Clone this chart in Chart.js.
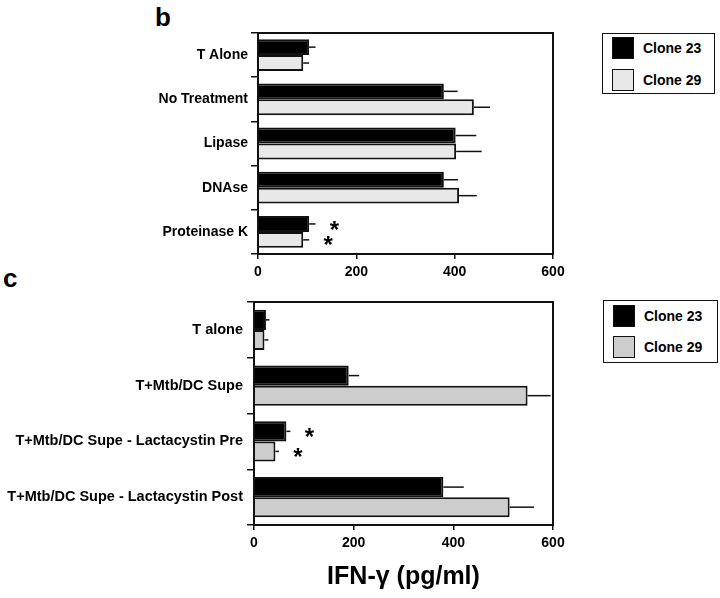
<!DOCTYPE html>
<html>
<head>
<meta charset="utf-8">
<script src="https://cdn.jsdelivr.net/npm/chart.js@4"></script>
<style>
  body { margin:0; background:#fff; width:720px; height:598px; position:relative; overflow:hidden;
         font-family:"Liberation Sans", Arial, sans-serif; font-weight:bold; color:#000; }
  canvas { position:absolute; left:0; }
  .letter { position:absolute; font-size:26px; line-height:25px; }
  .legend { position:absolute; border:1.5px solid #111; box-sizing:border-box; }
  .sw { position:absolute; width:22px; height:22px; box-sizing:border-box; border:1.5px solid #111; }
  .lt { position:absolute; font-size:14px; line-height:16px; white-space:nowrap; }
</style>
</head>
<body>
<div class="letter" style="left:155px; top:5px;">b</div>
<div class="letter" style="left:3px; top:266px;">c</div>
<canvas id="chartB" width="570" height="285" style="top:0px;"></canvas>
<canvas id="chartC" width="570" height="318" style="top:280px;"></canvas>
<div id="legendB" class="legend" style="left:602px; top:33px; width:113px; height:61px;"></div>
<div id="legendC" class="legend" style="left:603px; top:300px; width:115px; height:63px;"></div>
<script>
const seriesNames = ["Clone 23", "Clone 29"];
const axisMin = 0, axisMax = 600, axisStep = 200;

// panel b
const labelsB = ["T Alone", "No Treatment", "Lipase", "DNAse", "Proteinase K"];
const clone23B = [104, 378, 402, 378, 104];
const clone23BErr = [13, 28, 42, 29, 13];
const clone29B = [92, 439, 403, 409, 92];
const clone29BErr = [12, 33, 52, 36, 12];
const starsB = [false, false, false, false, true];

// panel c
const labelsC = ["T alone", "T+Mtb/DC Supe", "T+Mtb/DC Supe - Lactacystin Pre", "T+Mtb/DC Supe - Lactacystin Post"];
const clone23C = [24, 190, 65, 380];
const clone23CErr = [7, 21, 8, 41];
const clone29C = [21, 549, 43, 513];
const clone29CErr = [8, 46, 7, 49];
const starsC = [false, false, true, false];

const FONT = '"Liberation Sans", Arial, sans-serif';
Chart.defaults.font.family = FONT;
Chart.defaults.color = '#000';

// error bars + significance stars
const errorBars = {
  id: 'errorBars',
  afterDatasetsDraw(chart) {
    const ctx = chart.ctx;
    const xs = chart.scales.x;
    ctx.save();
    chart.data.datasets.forEach((ds, i) => {
      const meta = chart.getDatasetMeta(i);
      meta.data.forEach((bar, j) => {
        const x0 = xs.getPixelForValue(ds.data[j]);
        const x1 = xs.getPixelForValue(ds.data[j] + ds.errors[j]);
        ctx.strokeStyle = '#111';
        ctx.lineWidth = 1.5;
        ctx.beginPath();
        ctx.moveTo(x0, bar.y);
        ctx.lineTo(x1, bar.y);
        ctx.stroke();
        if (ds.stars[j]) {
          ctx.fillStyle = '#000';
          ctx.font = 'bold 24px ' + FONT;
          ctx.textAlign = 'center';
          ctx.textBaseline = 'middle';
          ctx.fillText('*', x1 + 19, bar.y + 7);
        }
      });
    });
    ctx.restore();
  }
};

const frame = {
  id: 'frame',
  afterDraw(chart) {
    const a = chart.chartArea;
    const ctx = chart.ctx;
    ctx.save();
    ctx.lineWidth = 2;
    ctx.strokeStyle = '#111';
    ctx.strokeRect(a.left, a.top, a.right - a.left, a.bottom - a.top);
    ctx.restore();
  }
};

function makeChart(id, labels, d23, e23, d29, e29, stars, grey, geo) {
  const ctx = document.getElementById(id).getContext('2d');
  return new Chart(ctx, {
    type: 'bar',
    data: {
      labels: labels,
      datasets: [{
        label: seriesNames[0],
        data: d23, errors: e23, stars: stars,
        backgroundColor: '#000', borderColor: '#111', borderWidth: 2,
        categoryPercentage: 0.72, barPercentage: 1
      }, {
        label: seriesNames[1],
        data: d29, errors: e29, stars: stars,
        backgroundColor: grey, borderColor: '#111', borderWidth: 2,
        categoryPercentage: 0.72, barPercentage: 1
      }]
    },
    options: {
      indexAxis: 'y',
      responsive: false,
      animation: false,
      layout: { padding: { top: geo.top, right: geo.right, left: 0, bottom: 0 } },
      plugins: { legend: { display: false }, tooltip: { enabled: false } },
      scales: {
        x: {
          min: axisMin, max: axisMax,
          ticks: { stepSize: axisStep, font: { size: 14, weight: 'bold' }, color: '#000', padding: 5, maxRotation: 0 },
          grid: { drawOnChartArea: false, tickLength: 5, color: '#111', lineWidth: 1.5 },
          border: { display: false },
          title: geo.title ? { display: true, text: geo.title, font: { size: 25, weight: 'bold' }, color: '#000', padding: { top: 0, bottom: 6 } } : { display: false },
          afterFit: s => { s.height = geo.xHeight; }
        },
        y: {
          ticks: { font: { size: geo.labelSize, weight: 'bold' }, color: '#000', padding: geo.labelPad },
          grid: { drawOnChartArea: false, tickLength: 7, color: '#111', lineWidth: 1.5, offset: true },
          border: { display: false },
          afterFit: s => { s.width = geo.left; }
        }
      }
    },
    plugins: [errorBars, frame]
  });
}

makeChart('chartB', labelsB, clone23B, clone23BErr, clone29B, clone29BErr, starsB, '#e8e8e8',
  { top: 33, right: 17, left: 258, xHeight: 31, labelSize: 14, labelPad: 3 });
makeChart('chartC', labelsC, clone23C, clone23CErr, clone29C, clone29CErr, starsC, '#cdcdcd',
  { top: 22, right: 17, left: 254, xHeight: 73, labelSize: 14.5, labelPad: 4, title: 'IFN-\u03b3 (pg/ml)' });

function makeLegend(id, grey, rows) {
  const box = document.getElementById(id);
  const colors = ['#000', grey];
  seriesNames.forEach((name, i) => {
    const sw = document.createElement('div');
    sw.className = 'sw';
    sw.style.background = colors[i];
    sw.style.left = '8.5px';
    sw.style.top = rows[i] + 'px';
    box.appendChild(sw);
    const t = document.createElement('div');
    t.className = 'lt';
    t.textContent = name;
    t.style.left = '40px';
    t.style.top = (rows[i] + 3) + 'px';
    box.appendChild(t);
  });
}
makeLegend('legendB', '#e8e8e8', [3, 34.5]);
makeLegend('legendC', '#cdcdcd', [3.5, 35]);
</script>
</body>
</html>
